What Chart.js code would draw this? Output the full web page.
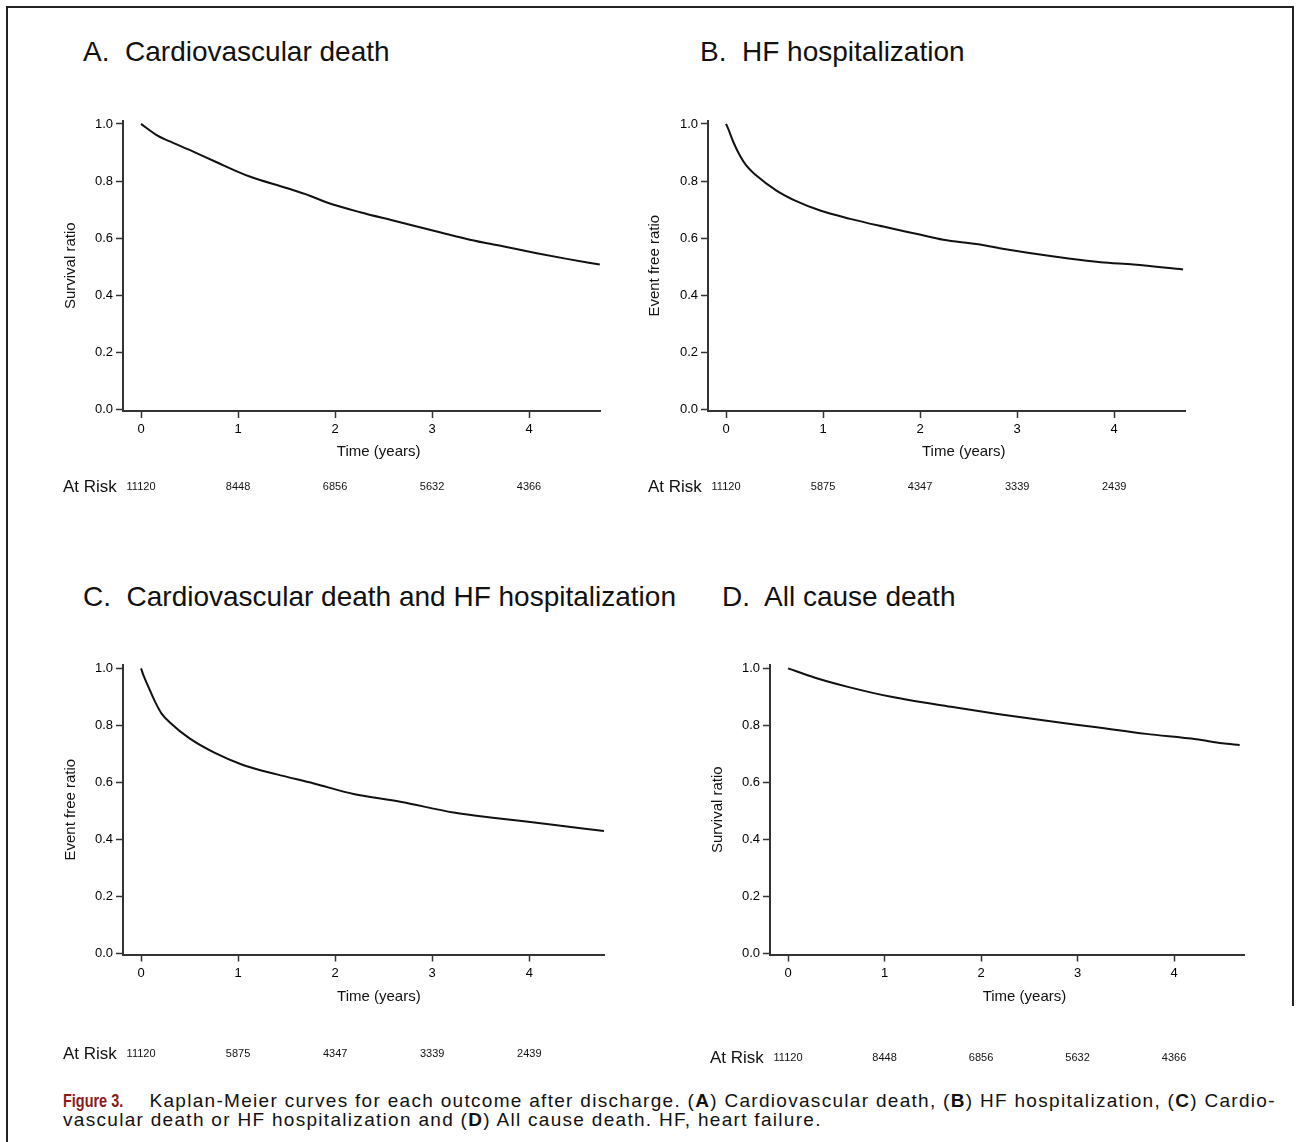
<!DOCTYPE html>
<html>
<head>
<meta charset="utf-8">
<script src="https://cdn.jsdelivr.net/npm/chart.js@4.4.1/dist/chart.umd.min.js"></script>
<style>
  body { margin: 0; background: #fff; font-family: "Liberation Sans", Arial, Helvetica, sans-serif; color: #111; }
  #page { position: relative; width: 1296px; height: 1142px; overflow: hidden; background: #fff; }
  .frame-l { position: absolute; left: 6px; top: 6px; width: 2px; height: 1136px; background: #222; }
  .frame-t { position: absolute; left: 6px; top: 6px; width: 1288px; height: 2px; background: #222; }
  .frame-r { position: absolute; left: 1292px; top: 6px; width: 2px; height: 1000px; background: #222; }
  .title { position: absolute; font-size: 28px; white-space: pre; line-height: 32px; }
  .panel { position: absolute; }
  .caption { position: absolute; left: 63px; top: 1091px; font-size: 19px; line-height: 19px; letter-spacing: 1.3px; white-space: nowrap; }
  .caption .fig { display: inline-block; font-weight: bold; color: #8b1a1a; letter-spacing: 0; transform: scaleX(0.76); transform-origin: left center; margin-right: -19px; }
</style>
</head>
<body>
<div id="page">
  <div class="frame-l"></div><div class="frame-t"></div><div class="frame-r"></div>

  <div class="title" style="left:83px; top:36px;">A.  Cardiovascular death</div>
  <div class="title" style="left:700px; top:36px;">B.  HF hospitalization</div>
  <div class="title" style="left:83px; top:581px;">C.  Cardiovascular death and HF hospitalization</div>
  <div class="title" style="left:722px; top:581px;">D.  All cause death</div>

  <div class="panel" style="left:0px; top:100px;"><canvas id="chartA" width="648" height="420"></canvas></div>
  <div class="panel" style="left:600px; top:100px;"><canvas id="chartB" width="696" height="420"></canvas></div>
  <div class="panel" style="left:0px; top:640px;"><canvas id="chartC" width="648" height="440"></canvas></div>
  <div class="panel" style="left:648px; top:640px;"><canvas id="chartD" width="648" height="440"></canvas></div>

  <div class="caption"><span class="fig">Figure 3.</span>&nbsp;&nbsp;&nbsp; Kaplan-Meier curves for each outcome after discharge. (<b>A</b>) Cardiovascular death, (<b>B</b>) HF hospitalization, (<b>C</b>) Cardio-<br>vascular death or HF hospitalization and (<b>D</b>) All cause death. HF, heart failure.</div>
</div>

<script>
// tick labels
const xTicks = [0, 1, 2, 3, 4];
const yTicks = [0, 0.2, 0.4, 0.6, 0.8, 1.0];

// A. cardiovascular death
const timesA = [0, 0.17, 0.33, 0.5, 0.78, 1.12, 1.5, 1.74, 1.91, 2.26, 2.6, 3.08, 3.39, 3.73, 4.08, 4.39, 4.73];
const cvDeath = [1.0, 0.959, 0.934, 0.909, 0.866, 0.816, 0.776, 0.749, 0.726, 0.691, 0.662, 0.621, 0.595, 0.572, 0.548, 0.528, 0.508];

// B. HF hospitalization
const timesB = [0, 0.024, 0.076, 0.144, 0.21, 0.30, 0.52, 0.73, 0.97, 1.28, 1.62, 1.97, 2.24, 2.58, 2.93, 3.38, 3.86, 4.20, 4.71];
const hfHosp = [1.0, 0.982, 0.936, 0.889, 0.854, 0.823, 0.767, 0.729, 0.697, 0.668, 0.641, 0.615, 0.595, 0.580, 0.559, 0.536, 0.516, 0.508, 0.491];

// C. cardiovascular death and HF hospitalization
const timesC = [0, 0.024, 0.076, 0.144, 0.21, 0.30, 0.50, 0.75, 1.05, 1.40, 1.78, 2.19, 2.67, 3.22, 3.67, 4.18, 4.77];
const cvOrHf = [1.0, 0.976, 0.935, 0.883, 0.842, 0.809, 0.754, 0.705, 0.661, 0.628, 0.596, 0.559, 0.532, 0.494, 0.474, 0.454, 0.429];

// D. all cause death
const timesD = [0, 0.28, 0.62, 1.07, 1.69, 2.17, 2.68, 3.20, 3.71, 4.23, 4.50, 4.68];
const allDeath = [1.0, 0.967, 0.935, 0.900, 0.865, 0.840, 0.816, 0.793, 0.770, 0.751, 0.737, 0.731];

// numbers at risk at 0..4 years
const riskA = [11120, 8448, 6856, 5632, 4366];
const riskB = [11120, 5875, 4347, 3339, 2439];
const riskC = [11120, 5875, 4347, 3339, 2439];
const riskD = [11120, 8448, 6856, 5632, 4366];

const FONT = '"Liberation Sans", Arial, Helvetica, sans-serif';
const INK = '#111';
const AXIS = '#333';

// draws "Time (years)" and the at-risk row under the x axis
const riskRow = {
  id: 'riskRow',
  afterDraw(chart, args, o) {
    const { ctx, chartArea } = chart;
    const xs = chart.scales.x;
    ctx.save();
    ctx.fillStyle = INK;
    ctx.textBaseline = 'middle';
    ctx.textAlign = 'center';
    ctx.font = '15px ' + FONT;
    ctx.fillText('Time (years)', xs.getPixelForValue(2.45), chartArea.bottom + o.titleGap);
    const y = chartArea.bottom + o.riskGap;
    ctx.textAlign = 'left';
    ctx.font = '17px ' + FONT;
    ctx.fillText('At Risk', o.labelX, y);
    ctx.textAlign = 'center';
    ctx.font = '11px ' + FONT;
    o.counts.forEach((n, i) => ctx.fillText(String(n), xs.getPixelForValue(xTicks[i]), y));
    ctx.restore();
  }
};

// p: canvas size and the wanted chart area, all in canvas pixels
function makePanel(id, times, values, yTitle, counts, p) {
  const canvas = document.getElementById(id);
  const cw = canvas.width, ch = canvas.height;
  return new Chart(canvas, {
    type: 'line',
    data: {
      datasets: [{
        data: times.map((t, i) => ({ x: t, y: values[i] })),
        borderColor: INK,
        borderWidth: 2,
        pointRadius: 0,
        fill: false,
        cubicInterpolationMode: 'monotone'
      }]
    },
    options: {
      responsive: false,
      animation: false,
      layout: { padding: { left: 0, top: p.top, right: cw - p.right, bottom: 0 } },
      plugins: {
        legend: { display: false },
        tooltip: { enabled: false },
        riskRow: { counts: counts, labelX: p.labelX, titleGap: p.titleGap, riskGap: p.riskGap }
      },
      scales: {
        x: {
          type: 'linear',
          min: p.xMin,
          max: p.xMax,
          afterBuildTicks: s => { s.ticks = xTicks.map(v => ({ value: v })); },
          afterFit: s => { s.height = ch - p.bottom; },
          grid: { drawOnChartArea: false, drawTicks: true, tickLength: 7, tickColor: AXIS, tickWidth: 1.5 },
          border: { display: true, color: AXIS, width: 2 },
          ticks: { color: '#000', padding: 4, font: { family: FONT, size: 13 }, maxRotation: 0, callback: v => String(v) }
        },
        y: {
          min: -0.004,
          max: 1.012,
          afterBuildTicks: s => { s.ticks = yTicks.map(v => ({ value: v })); },
          afterFit: s => { s.width = p.left; },
          grid: { drawOnChartArea: false, drawTicks: true, tickLength: 7, tickColor: AXIS, tickWidth: 1.5 },
          border: { display: true, color: AXIS, width: 2 },
          ticks: { color: '#000', padding: 3, font: { family: FONT, size: 13 }, callback: v => v.toFixed(1) },
          title: { display: true, text: yTitle, color: INK, font: { family: FONT, size: 15 }, padding: { top: p.yTitleX - 9, bottom: 0 } }
        }
      }
    },
    plugins: [riskRow]
  });
}

makePanel('chartA', timesA, cvDeath, 'Survival ratio', riskA,
  { left: 123, right: 600, top: 20.5, bottom: 311, xMin: -0.186, xMax: 4.732, yTitleX: 71, labelX: 63, titleGap: 41, riskGap: 76 });
makePanel('chartB', timesB, hfHosp, 'Event free ratio', riskB,
  { left: 108, right: 585, top: 20.5, bottom: 311, xMin: -0.186, xMax: 4.73, yTitleX: 55, labelX: 48, titleGap: 41, riskGap: 76 });
makePanel('chartC', timesC, cvOrHf, 'Event free ratio', riskC,
  { left: 123, right: 604, top: 24.9, bottom: 314.5, xMin: -0.186, xMax: 4.77, yTitleX: 71, labelX: 63, titleGap: 42.5, riskGap: 99.5 });
makePanel('chartD', timesD, allDeath, 'Survival ratio', riskD,
  { left: 122, right: 596, top: 24.9, bottom: 314.5, xMin: -0.187, xMax: 4.725, yTitleX: 70, labelX: 62, titleGap: 42.5, riskGap: 103.5 });
</script>
</body>
</html>
